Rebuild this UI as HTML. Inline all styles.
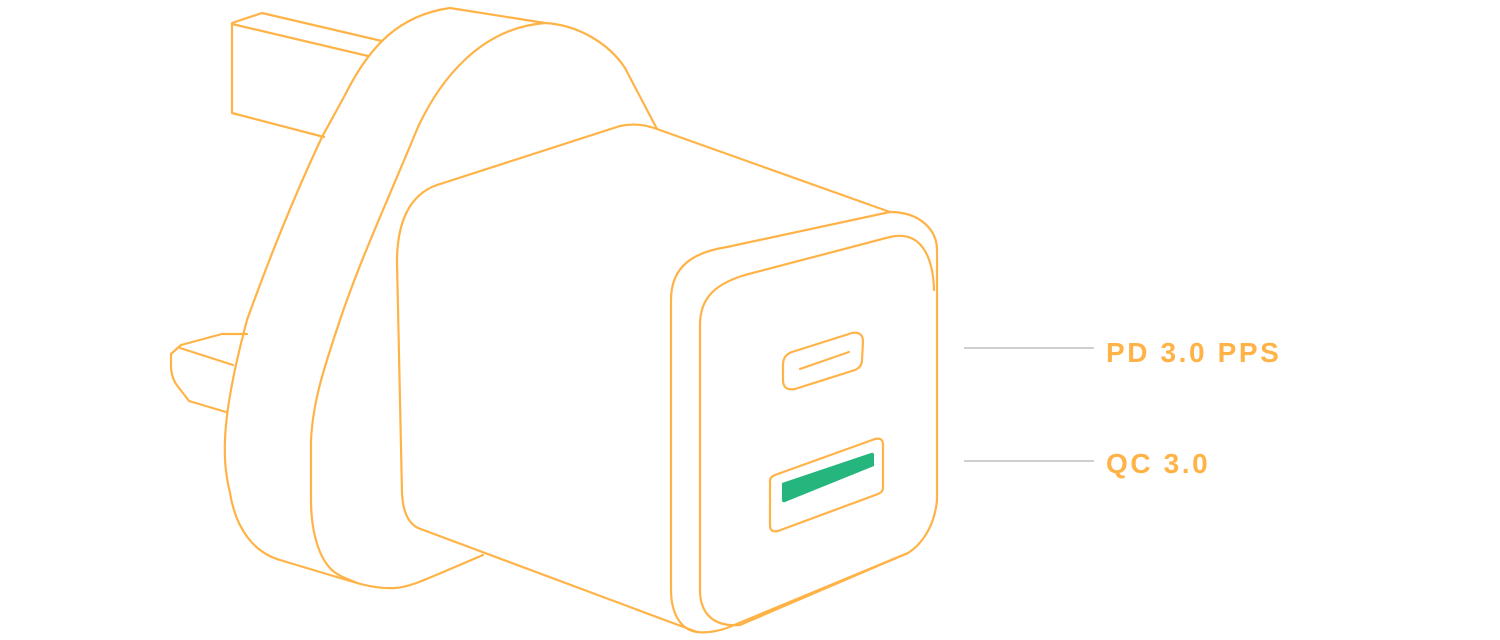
<!DOCTYPE html>
<html><head><meta charset="utf-8"><style>
html,body{margin:0;padding:0;background:#fff;}
svg{display:block;}
</style></head><body>
<svg width="1500" height="640" viewBox="0 0 1500 640" xmlns="http://www.w3.org/2000/svg">
<g fill="none" stroke="#FFB347" stroke-width="2.2" stroke-linejoin="round" stroke-linecap="round">
<path d="M232,23 L262,13 L382,41"/>
<path d="M232,24 L368,56"/>
<path d="M232,24 L232,113 L324,137"/>
<path d="M247,334 L222,334 L181,345 L171,354 L171,368 Q172,378 176,384 L189,401 L226,412"/>
<path d="M180,348 L233,365"/>
<path d="M450,8 C400,15 370,45 345,95 L322,137 C290,205 265,270 247,320 C235,365 226,410 225,440 C224,465 227,480 230,493 C236,530 255,553 280,560 L340,578 C360,584 375,589 395,588 C410,587 420,582 483,555"/>
<path d="M450,8 L545,23"/>
<path d="M545,23 C580,25 610,45 625,68 L657,129"/>
<path d="M545,23 C480,28 440,80 418,127 C390,195 360,260 340,320 C325,365 313,400 311,440 L311,500 C311,530 318,555 330,568 C336,575 345,578 355,582"/>
<path d="M437,185 L620,126 Q638,122 657,129 L890,212"/>
<path d="M437,185 C408,195 397,225 397,262 L402,493 C403,515 410,524 418,528 L697,632"/>
<path d="M727,247 L890,212 C920,212 937,230 937,250 L937,500 C935,522 925,542 908,553 L727,628 C715,632 705,633 697,632 C680,630 671,612 671,590 L671,300 C671,265 695,252 727,247 Z"/>
<path d="M745,275 L890,237 C920,230 933,255 934,290"/>
<path d="M745,275 C715,284 700,298 700,325 L700,590 C700,615 715,627 740,625 L908,553"/>
<path d="M792,352 L852,333 Q863,331 863,342 L862,360 Q862,367 855,370 L795,389 Q783,391 783,380 L783,365 Q783,355 792,352 Z"/>
<path d="M800,369 L849,352"/>
<path d="M775,475 L875,439 Q883,437 883,445 L883,488 Q883,492 878,494 L778,531 Q770,533 770,525 L770,481 Q770,477 775,475 Z"/>
</g>
<path d="M782,483 L871,453 Q874,452 874,455 L874,466 L785,502 Q782,503 782,500 Z" fill="#25B67D"/>
<g stroke="#cfcfcf" stroke-width="2">
<line x1="964" y1="348" x2="1094" y2="348"/>
<line x1="964" y1="461" x2="1094" y2="461"/>
</g>
<g font-family="'Liberation Sans', sans-serif" font-weight="bold" font-size="28" fill="#FFB347" letter-spacing="2.6">
<text x="1106" y="362">PD 3.0 PPS</text>
<text x="1106" y="473">QC 3.0</text>
</g>
</svg>
</body></html>
